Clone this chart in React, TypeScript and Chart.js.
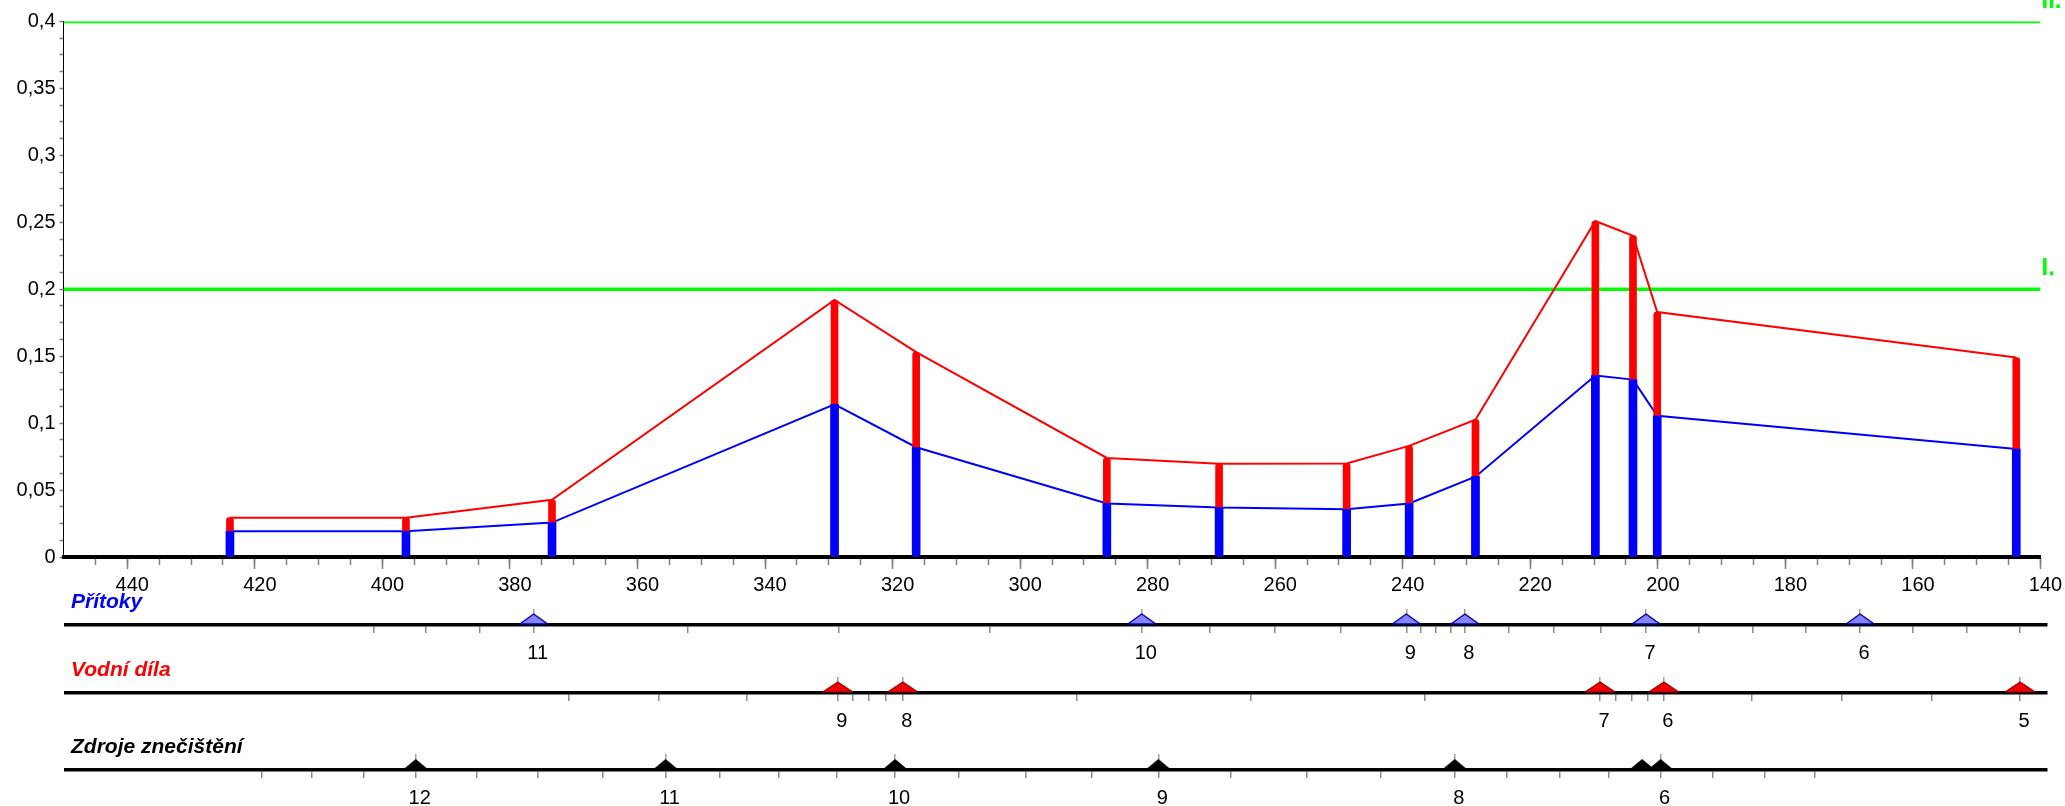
import React, { useEffect, useRef } from 'react';
import { Chart, registerables } from 'chart.js';

Chart.register(...registerables);

const FONT = '"Liberation Sans", Arial, Helvetica, sans-serif';

// ---- Main profile (river km, values) ----
const riverKm = [423.9, 396.3, 373.4, 329.1, 316.3, 286.4, 268.8, 248.8, 239.0, 228.6, 209.8, 203.9, 200.1, 143.8];
const totalValues = [0.0294, 0.0294, 0.0427, 0.192, 0.153, 0.074, 0.0696, 0.0699, 0.083, 0.1026, 0.251, 0.240, 0.183, 0.149];
const baseValues = [0.0192, 0.0192, 0.0257, 0.114, 0.082, 0.040, 0.037, 0.0357, 0.040, 0.060, 0.1355, 0.1325, 0.1055, 0.0806];
const limitValues = [0.2, 0.4];
const limitLabels = ['I.', 'II.'];
const xMajorTicks = [440, 420, 400, 380, 360, 340, 320, 300, 280, 260, 240, 220, 200, 180, 160, 140];

// ---- Strips ----
const pritokyKm = [376.4, 281.0, 239.5, 230.3, 201.9, 168.3];
const pritokyIds = ['11', '10', '9', '8', '7', '6'];
const pritokyTicks = [401.5, 393.3, 384.9, 352.3, 328.6, 304.8, 270.4, 260.1, 249.8, 237.3, 234.9, 232.6, 223.5, 216.3, 209.0, 193.6, 185.2, 176.8, 160.1, 151.6, 143.2];

const vodniKm = [328.7, 318.5, 209.1, 199.1, 143.2];
const vodniIds = ['9', '8', '7', '6', '5'];
const vodniTicks = [370.9, 356.8, 342.9, 326.4, 323.8, 321.2, 291.2, 263.9, 236.6, 206.6, 204.1, 201.6, 185.3, 171.2, 157.1];

const zdrojeKm = [394.9, 355.7, 319.7, 278.4, 231.9, 202.5, 199.6];
const zdrojeIds = ['12', '11', '10', '9', '8', '', '6'];
const zdrojeTicks = [419.1, 411.2, 403.1, 385.3, 375.8, 365.5, 347.2, 337.9, 328.8, 309.7, 299.2, 288.8, 267, 255.1, 243.5, 223.7, 215.5, 207.7, 191.4, 183.3, 175.4];

function makeTriangle(w: number, h: number, fill: string, stroke: string | null, lw: number) {
  const c = document.createElement('canvas');
  c.width = w + 4;
  c.height = (h + 2) * 2;
  const ctx = c.getContext('2d')!;
  const cx = c.width / 2;
  const base = c.height / 2 - 1;
  ctx.beginPath();
  ctx.moveTo(cx - w / 2, base);
  ctx.lineTo(cx, base - h);
  ctx.lineTo(cx + w / 2, base);
  ctx.closePath();
  ctx.fillStyle = fill;
  ctx.fill();
  if (stroke) {
    ctx.strokeStyle = stroke;
    ctx.lineWidth = lw;
    ctx.lineJoin = 'round';
    ctx.stroke();
  }
  return c;
}

const limitLabelPlugin = {
  id: 'limitLabels',
  afterDatasetsDraw(chart: any) {
    const { ctx, chartArea } = chart;
    const y = chart.scales.y;
    ctx.save();
    ctx.font = `bold 24px ${FONT}`;
    ctx.fillStyle = '#00ff00';
    ctx.textBaseline = 'alphabetic';
    ctx.textAlign = 'left';
    limitValues.forEach((v, i) => {
      ctx.fillText(limitLabels[i], chartArea.right + 1, y.getPixelForValue(v) - 14);
    });
    ctx.restore();
  },
};

const stripTitlePlugin = {
  id: 'stripTitle',
  afterDraw(chart: any, _args: any, opts: any) {
    const { ctx, chartArea } = chart;
    ctx.save();
    ctx.font = `italic bold 21px ${FONT}`;
    ctx.fillStyle = opts.color;
    ctx.textBaseline = 'alphabetic';
    ctx.textAlign = 'left';
    ctx.fillText(opts.text, chartArea.left + 5, chartArea.bottom - 17.5);
    ctx.restore();
  },
};

function yLabel(value: number) {
  const v = Math.round(value * 10000) / 10000;
  const k = v / 0.05;
  if (Math.abs(k - Math.round(k)) > 1e-6) return '';
  return String(+v.toFixed(2)).replace('.', ',');
}

function mainConfig(): any {
  const yTicks: number[] = [];
  for (let i = 0; i <= 32; i++) yTicks.push(i * 0.0125);
  const xMinor: number[] = [];
  for (let v = 445; v >= 140; v -= 5) xMinor.push(v);

  const datasets: any[] = [];
  limitValues.forEach((lv) => {
    datasets.push({
      type: 'line',
      data: [{ x: 450, y: lv }, { x: 140, y: lv }],
      borderColor: '#00ff00',
      borderWidth: 3.5,
      pointRadius: 0,
      fill: false,
      order: 5,
    });
  });
  datasets.push({
    type: 'line',
    data: riverKm.map((k, i) => ({ x: k, y: totalValues[i] })),
    borderColor: '#ff0000',
    borderWidth: 2,
    pointRadius: 0,
    tension: 0,
    fill: false,
    order: 3,
  });
  datasets.push({
    type: 'line',
    data: riverKm.map((k, i) => ({ x: k, y: baseValues[i] })),
    borderColor: '#0000ff',
    borderWidth: 2,
    pointRadius: 0,
    tension: 0,
    fill: false,
    order: 2,
  });
  datasets.push({
    type: 'bar',
    data: riverKm.map((k, i) => ({ x: k, y: totalValues[i] })),
    backgroundColor: '#ff0000',
    barThickness: 7,
    grouped: false,
    borderWidth: 0,
    borderRadius: 3,
    borderSkipped: false,
    order: 1,
  });
  datasets.push({
    type: 'bar',
    data: riverKm.map((k, i) => ({ x: k, y: baseValues[i] })),
    backgroundColor: '#0000ff',
    barThickness: 8,
    grouped: false,
    borderWidth: 0,
    borderRadius: { topLeft: 0, topRight: 0, bottomLeft: 3, bottomRight: 3 },
    borderSkipped: false,
    order: 0,
  });

  return {
    type: 'bar',
    data: { datasets },
    options: {
      responsive: false,
      animation: false,
      events: [],
      layout: { padding: { left: 0, right: 24.5, top: 21.5, bottom: 0 } },
      plugins: { legend: { display: false }, tooltip: { enabled: false }, title: { display: false } },
      scales: {
        xMinor: {
          type: 'linear',
          position: 'bottom',
          reverse: true,
          min: 140,
          max: 450,
          offset: false,
          weight: 0,
          afterBuildTicks: (s: any) => {
            s.ticks = xMinor.map((v) => ({ value: v }));
          },
          afterFit: (s: any) => {
            s.height = 0;
          },
          border: { display: true, color: 'rgba(0,0,0,0)', width: 4 },
          grid: { drawOnChartArea: false, drawTicks: true, tickLength: 8, tickColor: '#808080', tickWidth: 1.5, offset: false },
          ticks: { display: false, autoSkip: false },
        },
        x: {
          type: 'linear',
          position: 'bottom',
          reverse: true,
          min: 140,
          max: 450,
          offset: false,
          weight: 1,
          afterBuildTicks: (s: any) => {
            s.ticks = xMajorTicks.map((v) => ({ value: v }));
          },
          afterFit: (s: any) => {
            s.height = 43;
          },
          border: { display: true, color: '#000', width: 4 },
          grid: { drawOnChartArea: false, drawTicks: true, tickLength: 12, tickColor: '#808080', tickWidth: 1.5, offset: false },
          ticks: {
            autoSkip: false,
            maxRotation: 0,
            padding: 4,
            labelOffset: 5,
            color: '#000',
            font: { family: FONT, size: 20 },
            callback: (v: any) => String(v),
          },
        },
        y: {
          type: 'linear',
          position: 'left',
          min: 0,
          max: 0.4,
          afterBuildTicks: (s: any) => {
            s.ticks = yTicks.map((v) => ({ value: v }));
          },
          afterFit: (s: any) => {
            s.width = 63.5;
          },
          border: { display: true, color: '#000', width: 1 },
          grid: { drawOnChartArea: false, drawTicks: true, tickLength: 4, tickColor: '#808080', tickWidth: 1.5 },
          ticks: {
            autoSkip: false,
            padding: 4,
            color: '#000',
            font: { family: FONT, size: 20 },
            callback: (v: any) => yLabel(Number(v)),
          },
        },
      },
    },
    plugins: [limitLabelPlugin],
  };
}

function stripConfig(kms: number[], ids: string[], extra: number[], img: HTMLCanvasElement, title: string, color: string): any {
  const labelled = new Map<number, string>();
  kms.forEach((k, i) => {
    if (ids[i] !== '') labelled.set(k, ids[i]);
  });
  const tickVals = [...Array.from(labelled.keys()), ...extra].sort((a, b) => b - a);
  return {
    type: 'scatter',
    data: {
      datasets: [
        {
          data: kms.map((k) => ({ x: k, y: 0 })),
          pointStyle: img,
          pointRadius: 5,
          clip: false,
        },
      ],
    },
    options: {
      responsive: false,
      animation: false,
      events: [],
      layout: { padding: { left: 66, right: 18, top: 24, bottom: 0 } },
      plugins: {
        legend: { display: false },
        tooltip: { enabled: false },
        stripTitle: { text: title, color },
      },
      scales: {
        x: {
          type: 'linear',
          position: 'bottom',
          reverse: true,
          min: 138.98,
          max: 449.77,
          offset: false,
          afterBuildTicks: (s: any) => {
            s.ticks = tickVals.map((v) => ({ value: v }));
          },
          afterFit: (s: any) => {
            s.height = 36;
          },
          border: { display: true, color: '#000', width: 3.5 },
          grid: {
            drawOnChartArea: true,
            drawTicks: true,
            tickLength: 8,
            tickColor: '#8c8c8c',
            tickWidth: 1.5,
            lineWidth: 1.5,
            color: (c: any) => (c.tick && labelled.has(c.tick.value) ? '#a0a0a0' : 'rgba(0,0,0,0)'),
          },
          ticks: {
            autoSkip: false,
            maxRotation: 0,
            padding: 8,
            labelOffset: 4,
            color: '#000',
            font: { family: FONT, size: 20 },
            callback: (v: any) => labelled.get(Number(v)) ?? '',
          },
        },
        y: { display: false, min: 0, max: 1 },
      },
    },
    plugins: [stripTitlePlugin],
  };
}

export default function App() {
  const mainRef = useRef<HTMLCanvasElement>(null);
  const s1 = useRef<HTMLCanvasElement>(null);
  const s2 = useRef<HTMLCanvasElement>(null);
  const s3 = useRef<HTMLCanvasElement>(null);

  useEffect(() => {
    const charts: Chart[] = [];
    const blueTri = makeTriangle(28, 10, '#8585ff', '#00009c', 1.5);
    const redTri = makeTriangle(30, 10, '#ee0000', '#9a0000', 1.2);
    const blackTri = makeTriangle(24, 10, '#000000', null, 0);
    if (mainRef.current) charts.push(new Chart(mainRef.current, mainConfig()));
    if (s1.current) charts.push(new Chart(s1.current, stripConfig(pritokyKm, pritokyIds, pritokyTicks, blueTri, 'Přítoky', '#0000ff')));
    if (s2.current) charts.push(new Chart(s2.current, stripConfig(vodniKm, vodniIds, vodniTicks, redTri, 'Vodní díla', '#ff0000')));
    if (s3.current) charts.push(new Chart(s3.current, stripConfig(zdrojeKm, zdrojeIds, zdrojeTicks, blackTri, 'Zdroje znečištění', '#000000')));
    return () => charts.forEach((c) => c.destroy());
  }, []);

  return (
    <div style={{ position: 'fixed', left: 0, top: 0, width: 2065, height: 806, overflow: 'hidden', background: '#fff' }}>
      <canvas ref={mainRef} width={2065} height={600} style={{ position: 'absolute', left: 0, top: 0 }} />
      <canvas ref={s1} width={2065} height={76} style={{ position: 'absolute', left: 0, top: 585 }} />
      <canvas ref={s2} width={2065} height={76} style={{ position: 'absolute', left: 0, top: 653 }} />
      <canvas ref={s3} width={2065} height={76} style={{ position: 'absolute', left: 0, top: 730 }} />
    </div>
  );
}
